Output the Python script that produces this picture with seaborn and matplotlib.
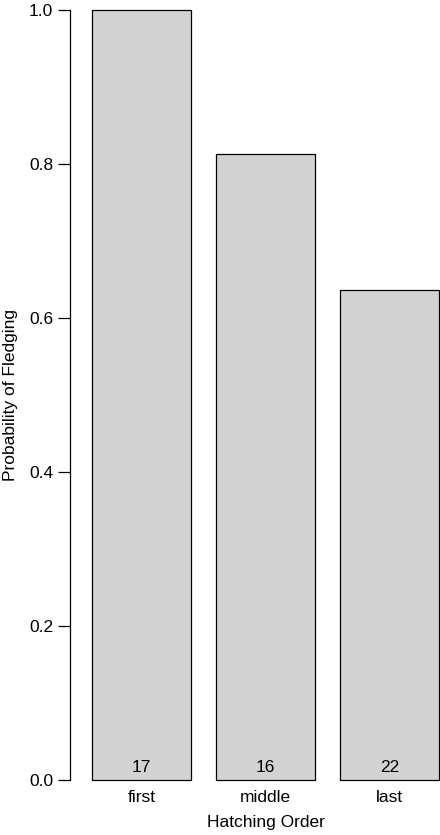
import pandas as pd
import seaborn as sns
import matplotlib.pyplot as plt

# Fledging probability by hatching order
order = ['first', 'middle', 'last']
prob = [1.0, 0.8125, 0.636]
n_chicks = [17, 16, 22]

df = pd.DataFrame({'Order': order, 'Prob': prob})

sns.set_style('ticks')
plt.rcParams['font.family'] = ['Liberation Sans', 'DejaVu Sans']
plt.rcParams['text.color'] = 'black'
plt.rcParams['axes.labelcolor'] = 'black'
plt.rcParams['xtick.color'] = 'black'
plt.rcParams['ytick.color'] = 'black'

fs = 12.5

fig = plt.figure(figsize=(4.4, 8.35), dpi=100)
ax = fig.add_axes([70 / 440, 1 - 780 / 835, 370 / 440, 770 / 835])

sns.barplot(data=df, x='Order', y='Prob', order=order, color='#d3d3d3',
            saturation=1, width=0.8, edgecolor='black', linewidth=0.9, ax=ax)
for p in ax.patches:
    p.set_clip_on(False)

# sample sizes at the foot of each bar
for i, n in enumerate(n_chicks):
    ax.text(i, 0.006, str(n), ha='center', va='bottom', fontsize=fs)

ax.set_xlim(-0.577, 2.406)
ax.set_ylim(0, 1)
ax.set_yticks([0.0, 0.2, 0.4, 0.6, 0.8, 1.0])
ax.set_yticklabels(['0.0', '0.2', '0.4', '0.6', '0.8', '1.0'])

sns.despine(ax=ax, bottom=True)
ax.spines['left'].set_linewidth(0.9)
ax.spines['left'].set_color('black')
ax.tick_params(axis='y', length=8.6, width=0.9, pad=3.5, labelsize=fs)
ax.tick_params(axis='x', length=0, pad=7, labelsize=fs)

ax.set_ylabel('Probability of Fledging', fontsize=fs)
ax.yaxis.set_label_coords(-0.14, 0.5)
ax.set_xlabel('Hatching Order', fontsize=fs)
ax.xaxis.set_label_coords(0.53, -0.046)

fig.savefig('out.png', dpi=100)
